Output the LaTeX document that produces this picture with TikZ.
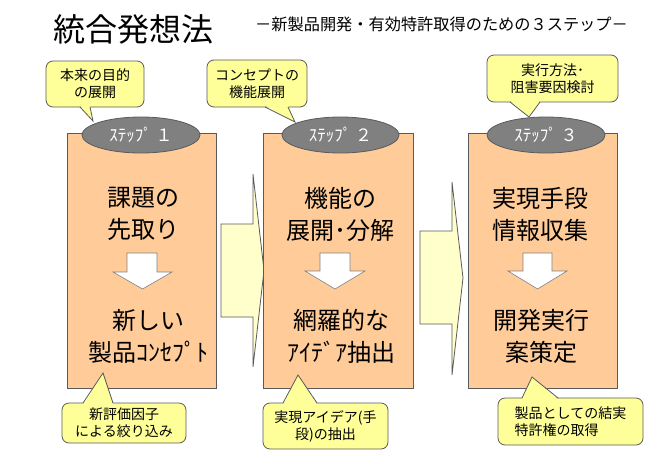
\documentclass[tikz,border=0pt]{standalone}
\usepackage{fontspec}
\setmainfont{Noto Sans CJK JP}
\usetikzlibrary{shapes.geometric}
\definecolor{peach}{HTML}{FFCC99}
\definecolor{callyel}{HTML}{FFFF99}
\definecolor{arryel}{HTML}{FFFFCC}
\definecolor{stepgray}{HTML}{808080}
\definecolor{edgegray}{HTML}{5A5A5A}
\newcommand\calloutptr[5]{% x1 x2 ybase offset tipname
  \fill[callyel] (#1,#3+#4) -- (#5) -- (#2,#3+#4) -- cycle;
  \draw[edgegray,line width=0.8pt] (#1,#3) -- (#5) -- (#2,#3);}
\begin{document}
\begin{tikzpicture}[x=1pt,y=-1pt,
  stepbox/.style={draw=edgegray,fill=peach,line width=0.8pt,minimum width=#1,minimum height=255pt,inner sep=0pt},
  steplabel/.style={ellipse,draw=edgegray,fill=stepgray,line width=0.8pt,minimum width=118pt,minimum height=36pt,inner sep=0pt,text=white,font=\fontsize{17pt}{19pt}\selectfont},
  boxtext/.style={align=center,inner sep=0pt,font=\fontsize{24pt}{32pt}\selectfont},
  callbox/.style={draw=edgegray,fill=callyel,line width=0.8pt,rounded corners=7pt,minimum width=#1,inner sep=0pt},
  calltext/.style={align=center,inner sep=0pt,font=\fontsize{14pt}{17pt}\selectfont},
  bigarrow/.style={fill=arryel,draw=edgegray,line width=0.8pt,line join=miter},
  downarrow/.style={fill=white,draw=stepgray,line width=0.6pt}]
\useasboundingbox (0,0) rectangle (668,458);

% title
\node[inner sep=0pt,font=\fontsize{32pt}{36pt}\selectfont] (title) at (133,29) {統合発想法};
\node[inner sep=0pt,anchor=west,font=\fontsize{16.2pt}{18pt}\selectfont] (subtitle) at (255,24) {－新製品開発・有効特許取得のための３ステップ－};

% big arrows between boxes
\draw[bigarrow] (221,224) -- (253,224) -- (253,174) -- (264,270.5) -- (253,367) -- (253,317) -- (221,317) -- cycle;
\draw[bigarrow] (420,231) -- (452,231) -- (452,182) -- (463,278) -- (452,375) -- (452,324) -- (420,324) -- cycle;

% step boxes
\node[stepbox=149pt] (box1) at (141.5,260.5) {};
\node[stepbox=150pt] (box2) at (338,260.5) {};
\node[stepbox=149pt] (box3) at (542.5,260.5) {};

% step labels
\node[steplabel] (lab1) at (141,135) {ｽﾃｯﾌﾟ １};
\node[steplabel,minimum width=117pt] (lab2) at (340.5,135) {ｽﾃｯﾌﾟ ２};
\node[steplabel] (lab3) at (546,135) {ｽﾃｯﾌﾟ ３};

% down arrows
\draw[downarrow] (127,253) -- (157,253) -- (157,272) -- (172,272) -- (142.5,289) -- (113,272) -- (127,272) -- cycle;
\draw[downarrow] (320,253) -- (350,253) -- (350,271) -- (365,271) -- (335,289) -- (305,271) -- (320,271) -- cycle;
\draw[downarrow] (523,253) -- (552,253) -- (552,271) -- (567,271) -- (537.5,289) -- (508,271) -- (523,271) -- cycle;

% box texts
\node[boxtext] (t1a) at (143,214) {課題の\\先取り};
\node[boxtext] (t1b) at (148,336) {新しい\\製品ｺﾝｾﾌﾟﾄ};
\node[boxtext] (t2a) at (340,214) {機能の\\展開･分解};
\node[boxtext] (t2b) at (341,336) {網羅的な\\ｱｲﾃﾞｱ抽出};
\node[boxtext] (t3a) at (540,214) {実現手段\\情報収集};
\node[boxtext] (t3b) at (541,336) {開発実行\\案策定};

% callouts (top)
\node[callbox=98pt,minimum height=46pt] (c1) at (95,84) {};
\node[calltext] at (c1.center) {本来の目的\\の展開};
\coordinate (p1) at (93,121);
\calloutptr{80}{90}{107}{-1.5}{p1}

\node[callbox=100pt,minimum height=47pt] (c2) at (257,83.5) {};
\node[calltext] at (c2.center) {コンセプトの\\機能展開};
\coordinate (p2) at (295,122);
\calloutptr{265}{288}{107}{-1.5}{p2}

\node[callbox=131pt,minimum height=47pt] (c3) at (552.5,78.5) {};
\node[calltext] at (c3.center) {実行方法･\\阻害要因検討};
\coordinate (p3) at (529,117);
\calloutptr{510}{540}{102}{-1.5}{p3}

% callouts (bottom)
\node[callbox=124pt,minimum height=40pt] (c4) at (124,423) {};
\node[calltext] at (c4.center) {新評価因子\\による絞り込み};
\coordinate (p4) at (103,373);
\calloutptr{83}{113}{403}{1.5}{p4}

\node[callbox=125pt,minimum height=46pt] (c5) at (325.5,426) {};
\node[calltext] at (c5.center) {実現アイデア(手\\段)の抽出};
\coordinate (p5) at (298,375);
\calloutptr{283}{317}{403}{1.5}{p5}

\node[callbox=145pt,minimum height=47pt] (c6) at (570.5,421.5) {};
\node[calltext,align=left] at (c6.center) {製品としての結実\\特許権の取得};
\coordinate (p6) at (532,377);
\calloutptr{522}{558}{398}{1.5}{p6}
\end{tikzpicture}
\end{document}
